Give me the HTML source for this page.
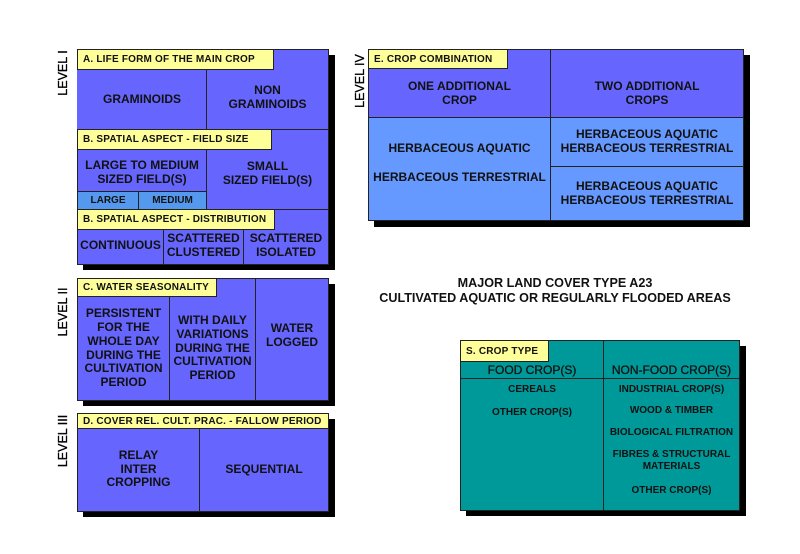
<!DOCTYPE html>
<html><head><meta charset="utf-8"><style>
body{margin:0;width:800px;height:554px;background:#fff;position:relative;overflow:hidden;font-family:"Liberation Sans",sans-serif;font-weight:bold;color:#111;}
div{box-sizing:border-box;}
.a{position:absolute;}
.box{position:absolute;border:1px solid #222;}
.sh{position:absolute;background:#000;}
.c{position:absolute;display:flex;align-items:center;justify-content:center;text-align:center;border:1px solid #222;line-height:1.15;}
.y{position:absolute;background:#ffff99;border:1px solid #222;font-size:10px;padding-left:5px;display:flex;align-items:center;letter-spacing:0.2px;}
.b{background:#6666ff;}
.lb{background:#6699ff;}
.t{background:#009999;}
.lv{position:absolute;transform:rotate(-90deg);transform-origin:center;font-size:12.5px;font-weight:normal;white-space:nowrap;color:#000;-webkit-text-stroke:0.3px #000;}
.f12{font-size:12px;} .f10{font-size:10px;}
</style></head><body>
<div class="sh" style="left:83px;top:55px;width:252px;height:215px"></div>
<div class="sh" style="left:83px;top:284px;width:252px;height:122px"></div>
<div class="sh" style="left:83px;top:419px;width:252px;height:98px"></div>
<div class="sh" style="left:374px;top:55px;width:376px;height:172px"></div>
<div class="sh" style="left:466px;top:346px;width:280px;height:170px"></div>

<div class="c b" style="left:77px;top:49px;width:130px;height:81px"></div>
<div class="c b f12" style="left:77px;top:69px;width:130px;height:61px;border:none">GRAMINOIDS</div>
<div class="c b f12" style="left:206px;top:49px;width:123px;height:81px;padding-top:16px">NON<br>GRAMINOIDS</div>
<div class="y" style="left:77px;top:49px;width:197px;height:21px">A. LIFE FORM OF THE MAIN CROP</div>
<div class="c b f12" style="left:77px;top:129px;width:130px;height:63px;padding-top:24px">LARGE TO MEDIUM<br>SIZED FIELD(S)</div>
<div class="c b f12" style="left:206px;top:129px;width:123px;height:81px;padding-top:8px">SMALL<br>SIZED FIELD(S)</div>
<div class="c f10" style="left:77px;top:191px;width:62px;height:19px;background:#5599ee">LARGE</div>
<div class="c f10" style="left:138px;top:191px;width:69px;height:19px;background:#5599ee">MEDIUM</div>
<div class="y" style="left:77px;top:129px;width:195px;height:21px">B. SPATIAL ASPECT - FIELD SIZE</div>
<div class="c b f12" style="left:77px;top:209px;width:87px;height:56px;padding-top:18px">CONTINUOUS</div>
<div class="c b f12" style="left:163px;top:209px;width:81px;height:56px;padding-top:18px">SCATTERED<br>CLUSTERED</div>
<div class="c b f12" style="left:243px;top:209px;width:86px;height:56px;padding-top:18px">SCATTERED<br>ISOLATED</div>
<div class="y" style="left:77px;top:209px;width:198px;height:21px">B. SPATIAL ASPECT - DISTRIBUTION</div>
<div class="lv" style="left:33px;top:66px;width:60px;text-align:center">LEVEL I</div>

<div class="c b f12" style="left:77px;top:278px;width:93px;height:123px;padding-top:18px">PERSISTENT<br>FOR THE<br>WHOLE DAY<br>DURING THE<br>CULTIVATION<br>PERIOD</div>
<div class="c b f12" style="left:169px;top:278px;width:87px;height:123px;padding-top:18px">WITH DAILY<br>VARIATIONS<br>DURING THE<br>CULTIVATION<br>PERIOD</div>
<div class="c b f12" style="left:255px;top:278px;width:74px;height:123px;padding-bottom:8px">WATER<br>LOGGED</div>
<div class="y" style="left:77px;top:278px;width:140px;height:19px">C. WATER SEASONALITY</div>
<div class="lv" style="left:28px;top:305px;width:70px;text-align:center">LEVEL II</div>

<div class="c b f12" style="left:77px;top:413px;width:123px;height:99px;padding-top:14px">RELAY<br>INTER<br>CROPPING</div>
<div class="c b f12" style="left:199px;top:413px;width:130px;height:99px;padding-top:14px">SEQUENTIAL</div>
<div class="y" style="left:77px;top:413px;width:252px;height:16px">D. COVER REL. CULT. PRAC. - FALLOW PERIOD</div>
<div class="lv" style="left:23px;top:434px;width:80px;text-align:center">LEVEL III</div>

<div class="c b f12" style="left:368px;top:49px;width:183px;height:69px;padding-top:20px">ONE ADDITIONAL<br>CROP</div>
<div class="c b f12" style="left:550px;top:49px;width:194px;height:69px;padding-top:20px">TWO ADDITIONAL<br>CROPS</div>
<div class="c lb f12" style="left:368px;top:117px;width:183px;height:104px;line-height:29px;padding-bottom:12px">HERBACEOUS AQUATIC<br>HERBACEOUS TERRESTRIAL</div>
<div class="c lb f12" style="left:550px;top:117px;width:194px;height:50px">HERBACEOUS AQUATIC<br>HERBACEOUS TERRESTRIAL</div>
<div class="c lb f12" style="left:550px;top:166px;width:194px;height:55px">HERBACEOUS AQUATIC<br>HERBACEOUS TERRESTRIAL</div>
<div class="y" style="left:368px;top:49px;width:140px;height:20px">E. CROP COMBINATION</div>
<div class="lv" style="left:325px;top:74px;width:70px;text-align:center">LEVEL IV</div>

<div class="a" style="left:355px;top:276px;width:400px;text-align:center;font-size:12.6px;line-height:15px;">MAJOR LAND COVER TYPE A23<br>CULTIVATED AQUATIC OR REGULARLY FLOODED AREAS</div>

<div class="box t" style="left:460px;top:340px;width:144px;height:171px"></div>
<div class="box t" style="left:603px;top:340px;width:137px;height:171px"></div>
<div class="a" style="left:460px;top:378px;width:280px;height:1px;background:#222"></div>
<div class="y" style="left:460px;top:340px;width:89px;height:22px">S. CROP TYPE</div>
<div class="a f12" style="left:460px;top:363px;width:144px;text-align:center;font-weight:normal;-webkit-text-stroke:0.3px #111">FOOD CROP(S)</div>
<div class="a f12" style="left:603px;top:363px;width:137px;text-align:center;font-weight:normal;-webkit-text-stroke:0.3px #111">NON-FOOD CROP(S)</div>
<div class="a f10" style="left:460px;top:384px;width:144px;text-align:center">CEREALS</div>
<div class="a f10" style="left:460px;top:407px;width:144px;text-align:center">OTHER CROP(S)</div>
<div class="a f10" style="left:603px;top:384px;width:137px;text-align:center">INDUSTRIAL CROP(S)</div>
<div class="a f10" style="left:603px;top:405px;width:137px;text-align:center">WOOD &amp; TIMBER</div>
<div class="a f10" style="left:603px;top:427px;width:137px;text-align:center">BIOLOGICAL FILTRATION</div>
<div class="a f10" style="left:603px;top:449px;width:137px;text-align:center;line-height:12px">FIBRES &amp; STRUCTURAL<br>MATERIALS</div>
<div class="a f10" style="left:603px;top:485px;width:137px;text-align:center">OTHER CROP(S)</div>
</body></html>
